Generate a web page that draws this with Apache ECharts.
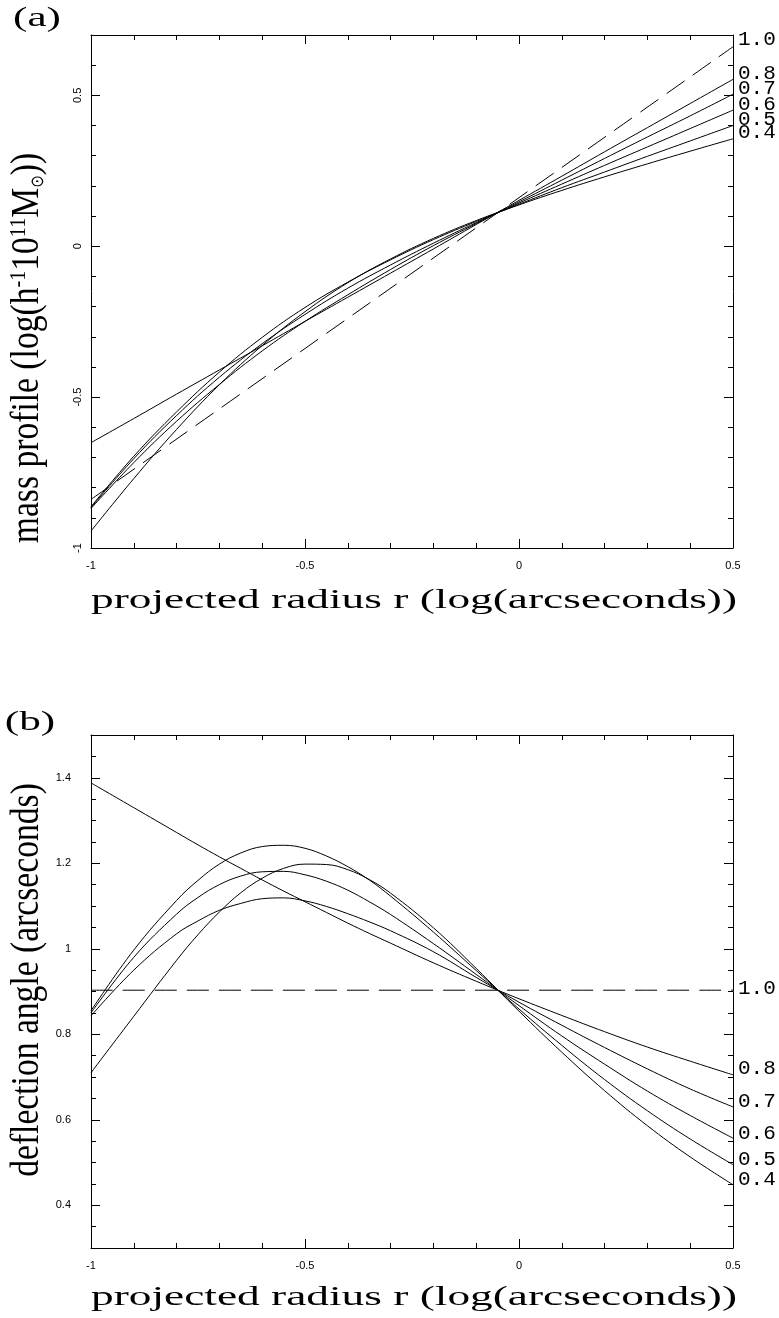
<!DOCTYPE html>
<html>
<head>
    <meta charset="utf-8">
    <title>mass profile / deflection angle</title>
    <script src="https://cdn.jsdelivr.net/npm/echarts@6/dist/echarts.min.js"></script>
    <style>html, body {margin: 0; padding: 0; background: #fff;}</style>
</head>
<body>
<div id="main" style="width: 779px;height:1318px;"></div>
<script type="text/javascript">
    // log projected radius for panel (a)
    var radius = [-1, -0.9, -0.8, -0.7, -0.6, -0.5, -0.4, -0.3, -0.2, -0.1, 0, 0.1, 0.2, 0.3, 0.4, 0.5];
    // panel (b) is read more finely round the peaks
    var radiusB = [-1, -0.9, -0.8, -0.75, -0.7, -0.65, -0.6, -0.55, -0.5, -0.45, -0.4, -0.35, -0.3, -0.2, -0.1, 0, 0.1, 0.2, 0.3, 0.4, 0.5];
    var radiusEnds = [-1, 0.5];

    // (a) mass profile
    var mass10 = [-0.839, 0.661];
    var mass08 = [-0.651, -0.571, -0.490, -0.410, -0.330, -0.249, -0.169, -0.089, -0.009, 0.072, 0.152, 0.232, 0.313, 0.393, 0.473, 0.553];
    var mass07 = [-0.869, -0.717, -0.580, -0.458, -0.347, -0.249, -0.161, -0.077, 0.002, 0.075, 0.147, 0.219, 0.291, 0.362, 0.432, 0.504];
    var mass06 = [-0.866, -0.704, -0.561, -0.434, -0.323, -0.226, -0.139, -0.062, 0.010, 0.078, 0.143, 0.206, 0.268, 0.329, 0.390, 0.451];
    var mass05 = [-0.863, -0.696, -0.549, -0.417, -0.302, -0.203, -0.119, -0.045, 0.022, 0.082, 0.139, 0.194, 0.246, 0.298, 0.349, 0.400];
    var mass04 = [-0.944, -0.770, -0.607, -0.459, -0.329, -0.217, -0.121, -0.042, 0.026, 0.085, 0.137, 0.185, 0.230, 0.273, 0.315, 0.356];

    // (b) deflection angle
    var defl10 = [0.903, 0.903];
    var defl08 = [1.388, 1.330, 1.272, 1.243, 1.215, 1.188, 1.161, 1.135, 1.110, 1.085, 1.060, 1.036, 1.013, 0.967, 0.924, 0.883, 0.844, 0.806, 0.770, 0.737, 0.705];
    var defl07 = [0.843, 0.950, 1.035, 1.065, 1.090, 1.106, 1.117, 1.119, 1.112, 1.099, 1.082, 1.063, 1.042, 0.993, 0.933, 0.875, 0.821, 0.769, 0.719, 0.672, 0.630];
    var defl06 = [0.850, 0.980, 1.081, 1.120, 1.150, 1.170, 1.180, 1.181, 1.173, 1.158, 1.137, 1.110, 1.080, 1.012, 0.940, 0.867, 0.796, 0.730, 0.667, 0.610, 0.557];
    var defl05 = [0.855, 0.997, 1.113, 1.160, 1.198, 1.224, 1.239, 1.242, 1.235, 1.217, 1.192, 1.161, 1.123, 1.039, 0.949, 0.859, 0.774, 0.694, 0.621, 0.555, 0.495];
    var defl04 = [0.710, 0.842, 0.973, 1.033, 1.086, 1.131, 1.165, 1.188, 1.198, 1.197, 1.185, 1.162, 1.130, 1.049, 0.954, 0.854, 0.758, 0.668, 0.586, 0.513, 0.448];

    // tick labels
    var massTicks = [-1, -0.5, 0, 0.5];
    var deflTicks = [0.4, 0.6, 0.8, 1, 1.2, 1.4];

    var serif = 'Liberation Serif';
    var mono = 'Liberation Mono';
    var sans = 'Liberation Sans';

    function pairs(xs, ys) {
        var out = [];
        for (var i = 0; i < ys.length; i++) {
            out.push([xs[i], ys[i]]);
        }
        return out;
    }

    function curve(name, xs, ys, x, y, dashed, labelDy) {
        return {
            name: name,
            type: 'line',
            xAxisIndex: x,
            yAxisIndex: y,
            data: pairs(xs, ys),
            smooth: 0.4,
            showSymbol: false,
            symbol: 'none',
            lineStyle: {color: '#000', width: 1, type: dashed ? [22, 10] : 'solid'},
            endLabel: {
                show: true,
                formatter: name,
                color: '#000',
                fontFamily: mono,
                fontSize: 21,
                distance: 5,
                offset: [0, labelDy]
            },
            z: 3
        };
    }

    var black = {color: '#000', width: 1};

    var xAxes = [];
    [0, 1].forEach(function (g) {
        ['bottom', 'top'].forEach(function (pos) {
            xAxes.push({
                gridIndex: g,
                type: 'value',
                position: pos,
                min: -1,
                max: 0.5,
                interval: 0.5,
                axisLine: {show: true, onZero: false, lineStyle: black},
                axisTick: {show: true, inside: true, length: 9, lineStyle: black},
                minorTick: {show: true, splitNumber: 5, length: 5, lineStyle: black},
                splitLine: {show: false},
                axisLabel: {show: pos === 'bottom', color: '#000', fontFamily: sans, fontSize: 11, margin: 12}
            });
        });
    });

    function yPair(g, pos, min, max, ticks, minorStep, label) {
        return [{
            gridIndex: g,
            type: 'value',
            position: pos,
            min: min,
            max: max,
            axisLine: {show: true, onZero: false, lineStyle: black},
            axisTick: {show: true, inside: true, length: 9, lineStyle: black, customValues: ticks},
            splitLine: {show: false},
            axisLabel: label ? label : {show: false}
        }, {
            gridIndex: g,
            type: 'value',
            position: pos,
            min: min,
            max: max,
            interval: minorStep,
            axisLine: {show: false, onZero: false},
            axisTick: {show: true, inside: true, length: 5, lineStyle: black},
            splitLine: {show: false},
            axisLabel: {show: false}
        }];
    }

    var yAxes = [].concat(
        yPair(0, 'left', -1, 0.7, massTicks, 0.1,
            {customValues: massTicks, rotate: 90, color: '#000', fontFamily: sans, fontSize: 11, margin: 8}),
        yPair(0, 'right', -1, 0.7, massTicks, 0.1),
        yPair(1, 'left', 0.3, 1.5, deflTicks, 0.05,
            {customValues: deflTicks, color: '#000', fontFamily: sans, fontSize: 11, margin: 20}),
        yPair(1, 'right', 0.3, 1.5, deflTicks, 0.05)
    );

    // axis titles: the original lettering is stretched sideways
    function title(text, x, y, size, sx, rot) {
        return {
            type: 'text',
            x: x,
            y: y,
            rotation: rot || 0,
            scaleX: sx,
            style: {
                text: text,
                fontFamily: serif,
                fontSize: size,
                fill: '#000',
                align: 'center',
                verticalAlign: 'middle',
                textAlign: 'center',
                textVerticalAlign: 'middle',
                rich: {
                    sup: {fontFamily: serif, fontSize: 24, fill: '#000', verticalAlign: 'top'},
                    sub: {fontFamily: 'DejaVu Sans', fontSize: 18, fill: '#000', verticalAlign: 'bottom'}
                }
            }
        };
    }

    var myChart = echarts.init(document.getElementById('main'));
    option = {
        animation: false,
        backgroundColor: '#fff',
        grid: [
            {left: 91, top: 35, width: 642, height: 513},
            {left: 91, top: 735, width: 642, height: 513}
        ],
        xAxis: xAxes,
        yAxis: yAxes,
        graphic: [
            title('(a)', 37, 19, 27, 1.6),
            title('(b)', 30, 723, 27, 1.6),
            title('projected radius r (log(arcseconds))', 414, 601, 28, 1.62),
            title('projected radius r (log(arcseconds))', 414, 1298, 28, 1.62),
            title('mass profile (log(h{sup|-1}10{sup|11}M{sub|\u2299}))', 27, 348, 40, 0.84, Math.PI / 2),
            title('deflection angle (arcseconds)', 27, 980, 40, 0.84, Math.PI / 2)
        ],
        series: [
            curve('1.0', radiusEnds, mass10, 0, 0, true, -7),
            curve('0.8', radius, mass08, 0, 0, false, -6),
            curve('0.7', radius, mass07, 0, 0, false, -6),
            curve('0.6', radius, mass06, 0, 0, false, -6),
            curve('0.5', radius, mass05, 0, 0, false, -6),
            curve('0.4', radius, mass04, 0, 0, false, -6),
            curve('1.0', radiusEnds, defl10, 2, 4, true, -2),
            curve('0.8', radiusB, defl08, 2, 4, false, -6),
            curve('0.7', radiusB, defl07, 2, 4, false, -5),
            curve('0.6', radiusB, defl06, 2, 4, false, -5),
            curve('0.5', radiusB, defl05, 2, 4, false, -5),
            curve('0.4', radiusB, defl04, 2, 4, false, -5)
        ]
    };
    myChart.setOption(option);
</script>
</body>
</html>
